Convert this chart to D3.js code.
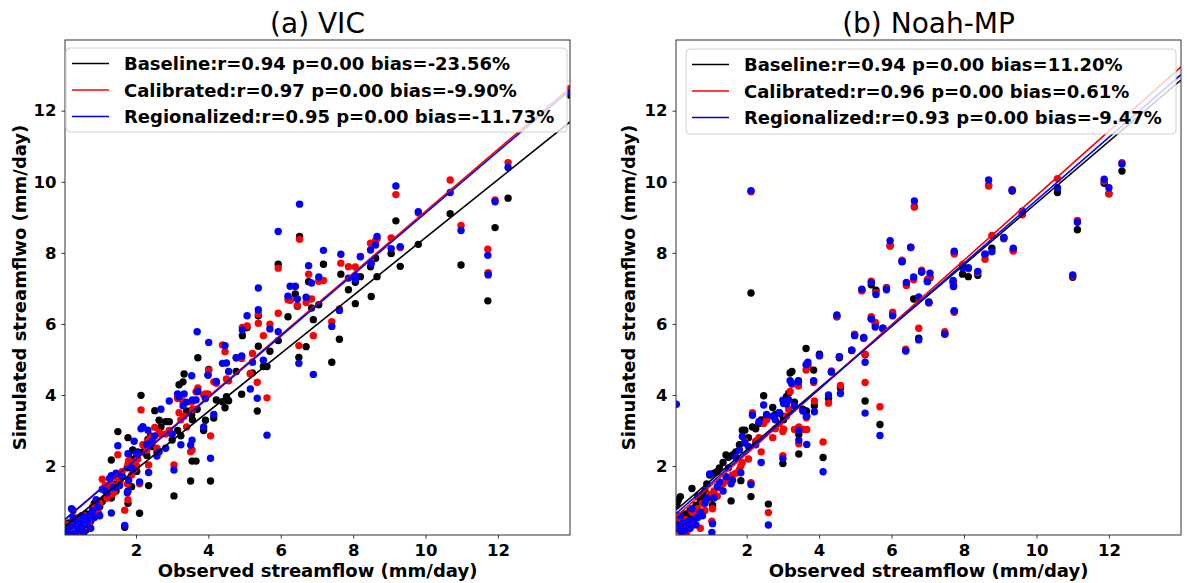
<!DOCTYPE html>
<html>
<head>
<meta charset="utf-8">
<script src="https://cdn.jsdelivr.net/npm/d3@7"></script>
<style>
  html, body { margin: 0; padding: 0; background: #fff; }
  svg { display: block; }
  text { font-family: "DejaVu Sans", sans-serif; }
</style>
</head>
<body>
<svg id="chart" width="1187" height="583"></svg>
<script>
// ---------------- DATA ----------------
const seriesNames = ["Baseline", "Calibrated", "Regionalized"];
const seriesColors = ["#000000", "#ff0000", "#0000ff"];
const panelTitles = ["(a) VIC", "(b) Noah-MP"];
const xLabel = "Observed streamflow (mm/day)";
const yLabel = "Simulated streamflwo (mm/day)";
const tickValues = [2, 4, 6, 8, 10, 12];

// legend statistics
const vicStats = ["r=0.94 p=0.00 bias=-23.56%", "r=0.97 p=0.00 bias=-9.90%", "r=0.95 p=0.00 bias=-11.73%"];
const noahStats = ["r=0.94 p=0.00 bias=11.20%", "r=0.96 p=0.00 bias=0.61%", "r=0.93 p=0.00 bias=-9.47%"];

// fitted regression lines [slope, intercept] per series
const vicFitSlope = [0.816, 0.870, 0.866];
const vicFitIntercept = [0.27, 0.47, 0.46];
const noahFitSlope = [0.868, 0.908, 0.886];
const noahFitIntercept = [0.72, 0.53, 0.62];

// VIC stations: observed, baseline, calibrated, regionalized
const vicObs  = [13.98,12.28,11.92,11.72,11.73,10.98,10.68,9.80,9.18,9.30,9.05,8.66,8.62,8.48,8.50,8.20,8.06,8.06,7.87,7.66,7.62,7.41,7.18,7.05,6.90,6.85,6.77,6.70,6.52,6.50,6.46,6.40,6.26,6.20,5.93,5.93,5.70,5.62,5.52,5.38,5.38,5.35,5.22,5.16,5.07,4.94,4.92,4.77,4.56,4.50,4.46,4.39,4.22,4.15,4.06,4.01,3.99,3.92,3.87,3.71,3.69,3.66,3.56,3.54,3.51,3.55,3.40,3.33,3.30,3.24,3.19,3.15,3.05,3.00,2.92,2.82,2.69,2.64,2.58,2.52,2.45,2.40,2.35,2.33,2.30,2.19,2.14,2.10,2.05,2.02,1.95,1.91,1.88,1.80,1.78,1.78,1.76,1.69,1.62,1.55,1.50,1.45,1.38,1.32,1.32,1.27,1.20,1.15,1.07,1.00,0.95,0.90,0.85,0.80,0.75,0.70,0.66,0.62,0.58,0.55,0.50,0.46,0.42,0.38,0.34,0.30,0.26,0.22,0.18,0.14,0.10,0.06];
const vicBase = [12.44,9.54,8.71,6.65,7.42,7.66,9.10,8.24,8.90,7.62,7.98,7.33,7.85,7.61,6.77,7.33,6.57,7.17,6.96,7.40,5.57,4.92,7.68,6.54,6.12,6.45,7.19,5.36,8.46,5.06,6.50,6.84,6.67,6.20,7.68,5.53,5.23,4.80,4.80,6.23,5.37,3.55,4.62,4.60,5.90,5.67,4.02,4.66,3.84,3.95,3.64,3.81,3.86,3.35,1.58,4.72,4.56,3.29,3.00,5.05,3.60,2.14,3.30,3.45,1.58,2.14,3.55,4.59,4.37,2.85,4.29,3.00,1.16,2.73,3.25,3.25,3.10,3.29,2.40,3.56,2.55,2.85,1.45,2.75,2.30,2.40,3.99,0.67,2.40,1.85,2.20,2.45,1.42,2.35,2.80,0.95,1.95,0.28,1.70,1.60,2.97,1.30,1.50,2.17,1.10,1.46,1.30,1.10,1.00,0.86,0.70,0.60,0.95,0.55,0.45,0.30,0.65,0.20,0.40,0.10,0.55,0.30,0.15,0.45,0.20,0.35,0.75,0.10,0.25,0.40,0.15,0.08];
const vicCal  = [12.62,10.54,9.49,8.10,7.44,8.77,10.05,9.12,9.64,8.15,8.42,8.40,8.35,8.27,7.75,7.90,7.60,7.30,7.61,7.71,6.42,6.06,7.22,7.20,5.67,6.70,7.40,6.60,8.38,5.39,6.52,7.05,6.69,6.68,7.57,6.30,5.99,3.92,5.67,6.28,6.02,4.36,5.17,4.60,5.94,5.90,5.03,5.05,4.40,4.45,5.22,5.41,4.33,4.37,2.85,4.70,4.03,4.03,4.00,4.20,4.10,4.09,3.60,3.80,2.40,2.45,3.10,3.40,3.81,3.30,3.50,3.90,2.03,2.90,3.00,2.90,2.90,2.95,2.50,3.09,2.75,2.80,2.03,2.70,2.45,2.60,3.58,1.50,2.20,2.00,1.90,2.10,1.75,2.15,2.05,1.05,1.50,0.76,1.85,1.55,2.32,1.70,1.25,1.50,1.20,1.30,1.10,1.45,1.63,0.95,0.80,0.70,0.65,0.85,0.55,0.40,0.50,0.30,0.60,0.25,0.45,0.15,0.35,0.55,0.10,0.25,0.40,0.30,0.15,0.20,0.35,0.10];
const vicReg  = [12.55,10.40,9.44,7.93,7.38,8.63,9.70,9.16,9.88,8.17,8.12,8.46,8.22,8.08,7.70,7.89,7.36,7.25,7.29,7.96,6.38,5.93,8.07,7.32,4.58,7.15,7.64,6.75,9.37,4.89,6.70,7.06,7.06,6.78,8.60,5.78,5.86,2.87,4.98,7.01,6.40,3.91,4.92,4.17,6.23,5.83,5.10,5.05,4.66,4.90,5.39,4.89,4.38,3.45,2.22,5.48,4.56,3.90,3.10,4.10,5.78,3.86,3.86,4.54,2.59,2.73,3.80,4.03,3.70,2.60,3.95,4.03,1.89,2.90,3.83,2.50,3.60,2.40,2.28,2.85,2.70,2.65,1.82,3.01,2.60,3.11,3.05,1.55,2.35,2.36,2.70,1.90,1.95,1.60,2.35,1.30,1.25,0.33,1.70,1.45,2.57,1.80,1.40,1.73,0.68,1.65,1.25,1.30,1.35,0.60,0.85,1.05,0.55,0.75,0.25,0.60,0.45,0.50,0.35,0.15,0.60,0.40,0.20,0.30,0.45,0.10,0.55,0.80,0.30,0.10,0.20,0.25];

// Noah-MP stations: observed, baseline, calibrated, regionalized
const noahObs  = [12.36,12.00,11.87,11.13,11.00,10.58,9.61,9.33,9.36,9.10,8.68,8.77,8.58,8.38,8.12,7.96,7.73,7.73,7.70,7.71,7.47,7.06,7.03,6.99,6.83,6.75,6.75,6.63,6.61,6.53,6.41,6.39,6.29,6.03,5.96,5.86,5.76,5.68,5.57,5.55,5.44,5.44,5.27,5.27,5.23,5.18,4.98,4.90,4.56,4.59,4.49,4.34,4.26,4.11,4.01,3.87,3.85,3.69,3.64,3.66,3.65,3.55,3.44,3.44,3.43,3.32,3.25,3.20,3.16,3.10,3.02,3.00,3.00,2.90,2.79,2.72,2.60,2.55,2.47,2.40,2.34,2.25,2.16,2.12,2.12,2.05,1.95,1.88,1.84,1.80,1.70,1.61,1.57,1.50,1.43,1.35,1.25,1.19,1.10,1.06,1.04,0.98,0.90,0.85,0.78,0.72,0.65,0.60,0.55,0.49,0.44,0.40,0.35,0.30,0.25,0.20,0.17,0.12,0.08,0.06];
const noahBase = [10.30,9.66,9.96,8.65,7.31,9.70,9.10,9.74,8.08,8.40,9.90,8.13,7.95,7.37,7.33,7.40,8.00,6.35,7.18,7.05,5.72,7.30,6.62,7.20,7.46,5.60,6.75,9.30,6.70,8.15,7.10,5.25,7.75,6.25,8.20,7.02,5.88,3.17,6.95,6.00,7.10,6.15,5.13,3.83,5.60,6.95,5.70,5.25,5.05,4.20,6.20,4.65,3.90,2.24,5.15,3.70,4.70,4.84,5.31,3.40,3.55,3.60,2.34,2.89,4.40,3.80,4.66,4.62,4.05,3.95,3.30,2.07,3.40,3.50,3.45,3.65,0.93,3.40,3.98,3.30,3.20,3.05,3.10,6.87,1.14,2.80,3.01,3.01,1.59,2.60,2.40,2.31,1.02,2.25,2.31,2.10,1.95,1.85,1.80,0.90,1.10,1.75,1.50,1.30,1.20,1.05,1.15,0.90,0.80,1.37,0.75,0.60,0.55,0.65,0.45,0.50,1.14,1.05,0.95,0.90];
const noahCal  = [10.54,9.67,10.02,8.91,7.35,10.09,9.07,9.78,8.05,8.42,9.88,8.49,7.82,7.45,7.55,7.67,7.97,6.33,7.15,7.10,5.78,7.32,6.59,7.25,7.51,5.88,6.70,9.29,7.24,8.15,7.08,5.29,7.79,6.33,8.19,7.01,5.86,3.67,6.88,6.04,7.20,6.20,5.15,4.35,5.60,6.93,5.71,5.26,5.08,4.27,6.21,4.68,3.77,2.68,5.10,3.83,4.35,4.80,4.70,3.03,3.36,3.03,2.63,3.10,4.25,3.03,4.30,4.10,3.60,3.40,3.04,2.29,2.97,3.20,3.05,2.80,0.69,3.30,3.20,2.40,2.80,2.70,3.50,9.72,1.53,2.20,2.70,2.10,2.00,1.90,1.80,1.75,1.55,1.65,1.60,1.50,1.40,1.15,1.30,0.80,0.45,1.20,1.05,0.75,0.95,0.25,0.80,0.60,0.35,0.70,0.45,0.30,0.15,0.50,0.25,0.10,0.40,0.55,0.20,0.50];
const noahReg  = [10.50,9.83,10.07,8.86,7.38,9.83,9.17,9.76,8.13,8.43,10.05,8.03,7.97,7.48,7.58,7.58,8.05,6.37,7.22,7.06,5.71,7.43,6.60,7.19,7.47,5.55,6.75,9.46,7.32,8.16,7.17,5.24,7.76,6.23,8.34,6.96,5.88,2.86,6.83,5.91,7.17,6.14,4.92,3.49,5.62,6.98,5.67,5.26,5.08,4.04,6.25,4.65,4.00,1.84,5.11,3.53,4.40,4.92,4.85,2.61,3.40,3.55,2.73,3.00,4.37,3.70,4.33,4.40,3.86,3.75,3.76,2.21,3.85,3.50,3.30,3.40,0.34,3.45,3.72,2.10,3.25,2.60,3.43,9.75,1.48,2.55,2.65,2.83,1.81,2.45,2.25,1.60,1.50,1.95,1.70,1.30,1.55,1.42,1.10,0.38,0.13,1.78,1.10,0.95,0.60,0.70,0.55,0.35,0.50,0.80,0.25,0.45,0.30,0.20,0.40,0.15,0.60,0.25,0.35,3.74];

// ---------------- CHART ----------------
const svg = d3.select("#chart");
const FONT = '"DejaVu Sans", sans-serif';

const panels = [
  { title: panelTitles[0], obs: vicObs, sims: [vicBase, vicCal, vicReg], stats: vicStats,
    slope: vicFitSlope, icpt: vicFitIntercept,
    left: 65, right: 570, top: 40, bottom: 535, xDom: [0.04, 13.99], yDom: [0.06, 13.99],
    legend: { x0: 66, x1: 567, y0: 48, y1: 132 }, yLabelX: 19 },
  { title: panelTitles[1], obs: noahObs, sims: [noahBase, noahCal, noahReg], stats: noahStats,
    slope: noahFitSlope, icpt: noahFitIntercept,
    left: 676, right: 1181, top: 40, bottom: 535, xDom: [0.05, 13.99], yDom: [0.06, 13.99],
    legend: { x0: 686, x1: 1176, y0: 49, y1: 134 }, yLabelX: 628 }
];

panels.forEach((p, pi) => {
  const x = d3.scaleLinear().domain(p.xDom).range([p.left, p.right]);
  const y = d3.scaleLinear().domain(p.yDom).range([p.bottom, p.top]);
  const g = svg.append("g");

  const clipId = "clip" + pi;
  svg.append("clipPath").attr("id", clipId).append("rect")
    .attr("x", p.left).attr("y", p.top)
    .attr("width", p.right - p.left).attr("height", p.bottom - p.top);

  const plot = g.append("g").attr("clip-path", `url(#${clipId})`);

  // scatter: baseline, calibrated, regionalized
  p.sims.forEach((sim, si) => {
    plot.append("g").selectAll("circle")
      .data(p.obs.map((o, i) => [o, sim[i]]))
      .join("circle")
      .attr("cx", d => x(d[0]))
      .attr("cy", d => y(d[1]))
      .attr("r", 3.7)
      .attr("fill", seriesColors[si]);
  });

  // regression lines
  p.sims.forEach((sim, si) => {
    const xs = [p.xDom[0], p.xDom[1]];
    const line = d3.line().x(d => x(d)).y(d => y(p.slope[si] * d + p.icpt[si]));
    plot.append("path").datum(xs).attr("d", line)
      .attr("fill", "none").attr("stroke", seriesColors[si]).attr("stroke-width", 1.6);
  });

  // axes
  const xAxis = d3.axisBottom(x).tickValues(tickValues).tickSize(3.5).tickPadding(6).tickFormat(d3.format("d"));
  const yAxis = d3.axisLeft(y).tickValues(tickValues).tickSize(3.5).tickPadding(5).tickFormat(d3.format("d"));
  const gx = g.append("g").attr("transform", `translate(0,${p.bottom})`).call(xAxis);
  const gy = g.append("g").attr("transform", `translate(${p.left},0)`).call(yAxis);
  [gx, gy].forEach(ax => {
    ax.select(".domain").remove();
    ax.selectAll(".tick line").attr("stroke", "#333");
    ax.selectAll(".tick text").attr("fill", "#000").attr("font-family", FONT)
      .attr("font-size", 16.5).attr("font-weight", "bold");
  });

  // frame
  g.append("rect").attr("x", p.left).attr("y", p.top)
    .attr("width", p.right - p.left).attr("height", p.bottom - p.top)
    .attr("fill", "none").attr("stroke", "#333").attr("stroke-width", 1);

  // legend
  const L = p.legend;
  g.append("rect").attr("x", L.x0).attr("y", L.y0)
    .attr("width", L.x1 - L.x0).attr("height", L.y1 - L.y0)
    .attr("rx", 4).attr("ry", 4)
    .attr("fill", "#fff").attr("fill-opacity", 0.8)
    .attr("stroke", "#d0d0d0").attr("stroke-width", 1);
  seriesNames.forEach((name, si) => {
    const cy = L.y0 + 15.5 + 26.5 * si;
    g.append("line").attr("x1", L.x0 + 6).attr("x2", L.x0 + 43)
      .attr("y1", cy).attr("y2", cy)
      .attr("stroke", seriesColors[si]).attr("stroke-width", 1.6);
    g.append("text").attr("x", L.x0 + 58).attr("y", cy)
      .attr("dominant-baseline", "central")
      .attr("font-family", FONT).attr("font-size", 18).attr("font-weight", "bold")
      .attr("fill", "#000")
      .text(name + ":" + p.stats[si]);
  });

  // title
  g.append("text").attr("x", (p.left + p.right) / 2).attr("y", 33)
    .attr("text-anchor", "middle").attr("font-family", FONT)
    .attr("font-size", 28).attr("fill", "#000").text(p.title);

  // axis labels
  g.append("text").attr("x", (p.left + p.right) / 2).attr("y", 577)
    .attr("text-anchor", "middle").attr("font-family", FONT)
    .attr("font-size", 18).attr("font-weight", "bold").attr("fill", "#000").text(xLabel);
  g.append("text")
    .attr("transform", `translate(${p.yLabelX},${(p.top + p.bottom) / 2}) rotate(-90)`)
    .attr("text-anchor", "middle").attr("dominant-baseline", "central")
    .attr("font-family", FONT).attr("font-size", 18).attr("font-weight", "bold")
    .attr("fill", "#000").text(yLabel);
});
</script>
</body>
</html>
